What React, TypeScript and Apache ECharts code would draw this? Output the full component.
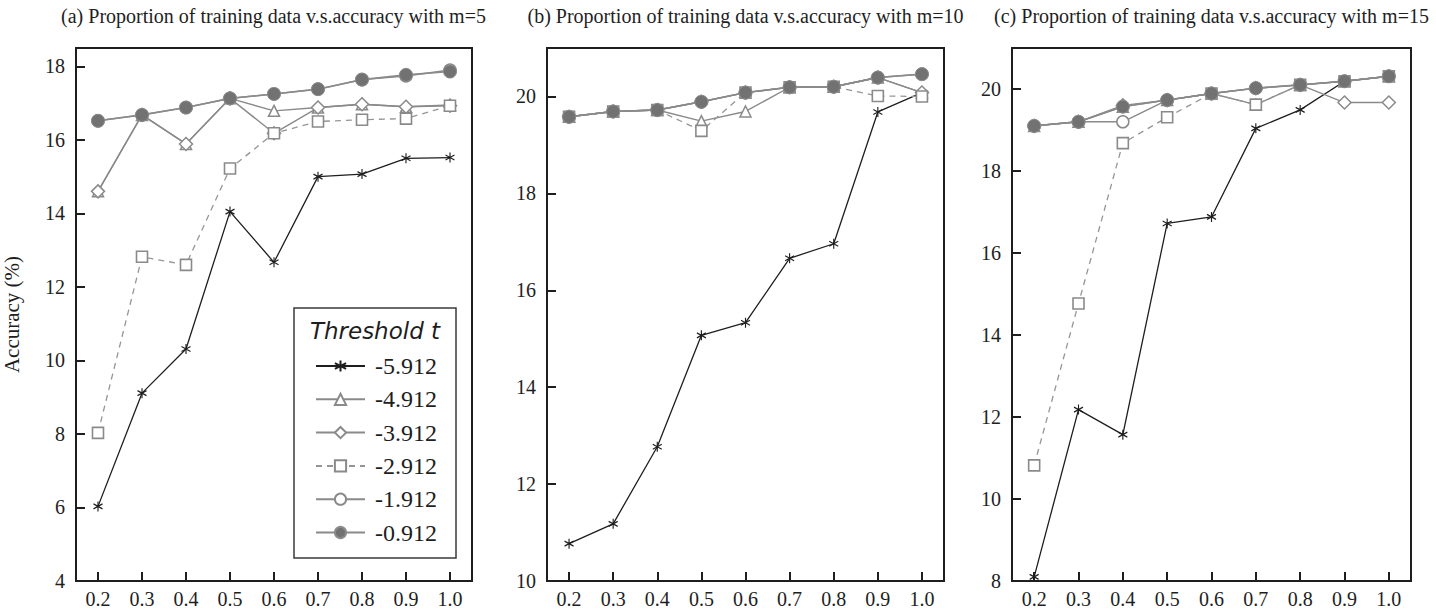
import React, { useEffect, useRef } from "react";
import * as echarts from "echarts";

const xLabels = ["0.2", "0.3", "0.4", "0.5", "0.6", "0.7", "0.8", "0.9", "1.0"];
const thresholds = ["-5.912", "-4.912", "-3.912", "-2.912", "-1.912", "-0.912"];

const panelTitles = [
  "(a) Proportion of training data v.s.accuracy with m=5",
  "(b) Proportion of training data v.s.accuracy with m=10",
  "(c) Proportion of training data v.s.accuracy with m=15",
];

// Panel (a) m=5
const aT5912 = [6.03, 9.11, 10.31, 14.05, 12.67, 15.0, 15.07, 15.5, 15.52];
const aT4912 = [14.6, 16.68, 15.89, 17.13, 16.79, 16.88, 16.97, 16.9, 16.95];
const aT3912 = [14.6, 16.68, 15.89, 17.13, 16.18, 16.88, 16.97, 16.9, 16.93];
const aT2912 = [8.03, 12.82, 12.6, 15.22, 16.18, 16.5, 16.55, 16.58, 16.93];
const aT1912 = [16.52, 16.68, 16.88, 17.13, 17.25, 17.38, 17.64, 17.74, 17.9];
const aT0912 = [16.52, 16.68, 16.88, 17.13, 17.25, 17.38, 17.64, 17.77, 17.86];

// Panel (b) m=10
const bT5912 = [10.77, 11.18, 12.77, 15.07, 15.33, 16.66, 16.96, 19.68, 20.08];
const bT4912 = [19.58, 19.69, 19.72, 19.49, 19.69, 20.19, 20.2, 20.39, 20.08];
const bT3912 = [19.58, 19.69, 19.72, 19.89, 20.08, 20.19, 20.2, 20.39, 20.08];
const bT2912 = [19.58, 19.69, 19.72, 19.29, 20.08, 20.19, 20.2, 20.01, 20.0];
const bT1912 = [19.58, 19.69, 19.72, 19.89, 20.08, 20.19, 20.2, 20.39, 20.46];
const bT0912 = [19.58, 19.69, 19.72, 19.89, 20.08, 20.19, 20.2, 20.39, 20.46];

// Panel (c) m=15
const cT5912 = [8.1, 12.18, 11.57, 16.72, 16.88, 19.04, 19.49, 20.19, 20.31];
const cT4912 = [19.1, 19.2, 19.57, 19.73, 19.89, 19.62, 20.1, 20.19, 20.31];
const cT3912 = [19.1, 19.2, 19.6, 19.73, 19.89, 20.02, 20.1, 19.67, 19.67];
const cT2912 = [10.82, 14.77, 18.68, 19.31, 19.89, 19.62, 20.1, 20.19, 20.31];
const cT1912 = [19.1, 19.2, 19.2, 19.73, 19.89, 20.02, 20.1, 20.19, 20.31];
const cT0912 = [19.1, 19.2, 19.57, 19.73, 19.89, 20.02, 20.1, 20.19, 20.31];

const yMins = [4, 10, 8];
const yMaxs = [18.5, 21, 21];
const yInterval = 2;

const panels = [
  [aT5912, aT4912, aT3912, aT2912, aT1912, aT0912],
  [bT5912, bT4912, bT3912, bT2912, bT1912, bT0912],
  [cT5912, cT4912, cT3912, cT2912, cT1912, cT0912],
];

const SERIF = "Liberation Serif";
const DARK = "#1e1e1e";
const GRAY = "#8a8a8a";
const STAR = "path://M0,-5L0,5M-4.33,-2.5L4.33,2.5M-4.33,2.5L4.33,-2.5";

const seriesStyles = [
  {
    symbol: STAR,
    symbolSize: [9, 10],
    lineStyle: { color: DARK, width: 1.3, type: "solid" },
    itemStyle: { color: DARK, borderColor: DARK, borderWidth: 1.2 },
  },
  {
    symbol: "triangle",
    symbolSize: 11,
    lineStyle: { color: GRAY, width: 1.4, type: "solid" },
    itemStyle: { color: "#fff", borderColor: GRAY, borderWidth: 1.5 },
  },
  {
    symbol: "diamond",
    symbolSize: 13,
    lineStyle: { color: GRAY, width: 1.4, type: "solid" },
    itemStyle: { color: "#fff", borderColor: GRAY, borderWidth: 1.5 },
  },
  {
    symbol: "rect",
    symbolSize: 11,
    lineStyle: { color: "#959595", width: 1.3, type: [6, 5] },
    itemStyle: { color: "#fff", borderColor: GRAY, borderWidth: 1.6 },
  },
  {
    symbol: "circle",
    symbolSize: 12,
    lineStyle: { color: GRAY, width: 1.4, type: "solid" },
    itemStyle: { color: "#fff", borderColor: GRAY, borderWidth: 1.5 },
  },
  {
    symbol: "circle",
    symbolSize: 13,
    lineStyle: { color: GRAY, width: 1.6, type: "solid" },
    itemStyle: { color: "#727272", borderColor: "#8c8c8c", borderWidth: 1 },
  },
];

const gridLefts = [75, 547, 1012];
const gridWidths = [397, 397, 399];

export default function App() {
  const ref = useRef<HTMLDivElement>(null);

  useEffect(() => {
    if (!ref.current) return;
    const chart = echarts.init(ref.current, null, { renderer: "svg" });

    const grids = gridLefts.map((left, i) => ({
      left,
      top: 48,
      width: gridWidths[i],
      height: 533,
      show: true,
      borderColor: DARK,
      borderWidth: 2,
      backgroundColor: "transparent",
      containLabel: false,
    }));

    const xAxes = gridLefts.map((_, i) => ({
      type: "category",
      gridIndex: i,
      data: xLabels,
      boundaryGap: true,
      axisLine: { show: false },
      axisTick: {
        show: true,
        inside: true,
        alignWithLabel: true,
        length: 9,
        lineStyle: { color: DARK, width: 2 },
      },
      axisLabel: {
        fontFamily: SERIF,
        fontSize: 20,
        color: DARK,
        margin: 8,
        interval: 0,
      },
      splitLine: { show: false },
    }));

    const yAxes = gridLefts.map((_, i) => ({
      type: "value",
      gridIndex: i,
      min: yMins[i],
      max: yMaxs[i],
      interval: yInterval,
      axisLine: { show: false },
      axisTick: {
        show: true,
        inside: true,
        length: 9,
        lineStyle: { color: DARK, width: 2 },
      },
      axisLabel: {
        fontFamily: SERIF,
        fontSize: 20,
        color: DARK,
        margin: 11,
        showMaxLabel: false,
        formatter: (v: number) => (v % yInterval === 0 ? String(v) : ""),
      },
      splitLine: { show: false },
      ...(i === 0
        ? {
            name: "Accuracy (%)",
            nameLocation: "middle",
            nameRotate: 90,
            nameGap: 54,
            nameTextStyle: { fontFamily: SERIF, fontSize: 21, color: DARK },
          }
        : {}),
    }));

    const series: any[] = [];
    panels.forEach((panel, p) => {
      panel.forEach((values, s) => {
        const st = seriesStyles[s];
        series.push({
          type: "line",
          name: thresholds[s],
          xAxisIndex: p,
          yAxisIndex: p,
          data: values,
          symbol: st.symbol,
          symbolSize: st.symbolSize,
          showSymbol: true,
          showAllSymbol: true,
          lineStyle: st.lineStyle,
          itemStyle: st.itemStyle,
          emphasis: { disabled: true },
          z: 2 + s,
        });
      });
    });

    const graphic: any[] = panelTitles.map((t, i) => ({
      type: "text",
      x: gridLefts[i] + gridWidths[i] / 2,
      y: 16,
      style: {
        text: t,
        fontFamily: SERIF,
        fontSize: 20,
        fill: DARK,
        textAlign: "center",
        textVerticalAlign: "middle",
      },
    }));
    graphic.push({
      type: "rect",
      shape: { x: 294, y: 308, width: 162, height: 250 },
      style: { fill: "#fff", stroke: "#3a3a3a", lineWidth: 1.5 },
      z: 1,
    });
    graphic.push({
      type: "text",
      x: 375,
      y: 331,
      style: {
        text: "Threshold t",
        fontFamily: "DejaVu Sans",
        fontStyle: "italic",
        fontSize: 23,
        fill: DARK,
        textAlign: "center",
        textVerticalAlign: "middle",
      },
      z: 10,
    });

    chart.setOption({
      animation: false,
      backgroundColor: "#fff",
      textStyle: { fontFamily: SERIF },
      grid: grids,
      xAxis: xAxes,
      yAxis: yAxes,
      series,
      legend: {
        data: thresholds,
        orient: "vertical",
        left: 310,
        top: 349,
        itemWidth: 49,
        itemHeight: 14,
        itemGap: 9.3,
        selectedMode: false,
        textStyle: {
          fontFamily: SERIF,
          fontSize: 24,
          color: DARK,
          padding: [0, 0, 0, 5],
        },
        z: 10,
      },
      graphic,
    });

    return () => {
      chart.dispose();
    };
  }, []);

  return (
    <div
      ref={ref}
      style={{ position: "fixed", left: 0, top: 0, width: 1436, height: 611 }}
    />
  );
}
